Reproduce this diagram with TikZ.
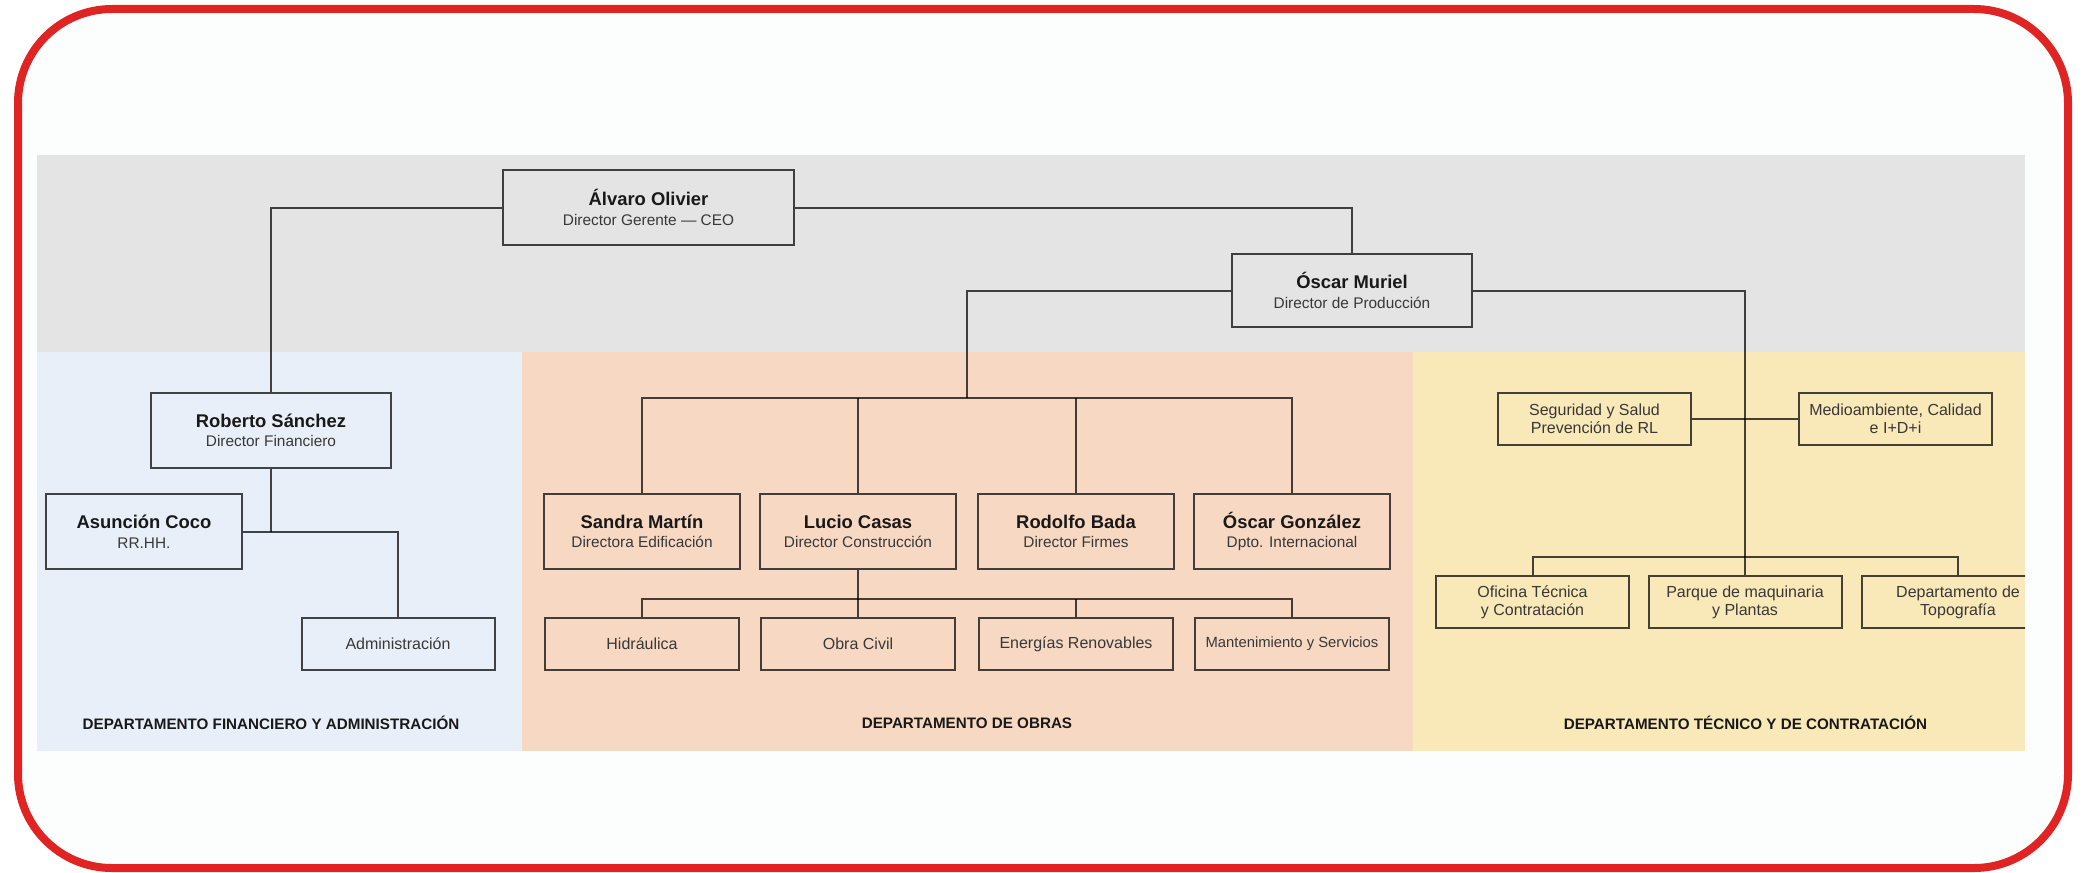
\documentclass[tikz,border=0pt]{standalone}
\usepackage{fontspec}
\setmainfont{Liberation Sans}
\usetikzlibrary{calc}
\definecolor{FrameClr}{rgb}{0.878,0.137,0.137}
\definecolor{PaperClr}{rgb}{0.988,0.996,0.992}
\definecolor{BandClr}{rgb}{0.894,0.894,0.894}
\definecolor{FinClr}{rgb}{0.914,0.937,0.976}
\definecolor{ObrasClr}{rgb}{0.969,0.847,0.765}
\definecolor{TecClr}{rgb}{0.976,0.910,0.722}
\definecolor{RoleClr}{rgb}{0.22,0.22,0.22}
\newcommand{\persona}[2]{{\fontsize{9.2}{9.75}\selectfont\bfseries #1}\\{\color{RoleClr}#2}}

\begin{document}
\begin{tikzpicture}[x=0.5pt,y=-0.5pt,
  box/.style={draw=black,draw opacity=0.72,line width=1pt,inner sep=0pt,align=center,
    text=black!90,font=\fontsize{7.7}{9.75}\selectfont},
  chief/.style={box,minimum width=98pt,minimum height=37.5pt},
  unit/.style={box,minimum width=96.5pt,minimum height=26pt,font=\fontsize{8}{9}\selectfont,text=RoleClr},
  dept/.style={font=\fontsize{7.6}{9}\selectfont\bfseries,text=black!90},
  link/.style={draw=black,draw opacity=0.72,line width=1pt}]

\useasboundingbox (0,0) rectangle (2086,872);
\fill[white] (0,0) rectangle (2086,872);
\draw[FrameClr,fill=PaperClr,line width=4pt,rounded corners=47pt] (18,9) rectangle (2068,868);

\fill[BandClr] (37,155) rectangle (2025,352);
\fill[FinClr] (37,352) rectangle (522,751);
\fill[ObrasClr] (522,352) rectangle (1413,751);
\fill[TecClr] (1413,352) rectangle (2025,751);

\node[chief,minimum width=145.5pt] (alv) at (648.5,207.5) {\persona{Álvaro Olivier}{Director Gerente — CEO}};
\node[chief,minimum width=120pt,minimum height=36.5pt] (mur) at (1352,290.5) {\persona{Óscar Muriel}{Director de Producción}};

\node[chief,minimum width=120pt] (rob) at (271,430.5) {\persona{Roberto Sánchez}{Director Financiero}};
\node[chief] (aso) at (144,531.5) {\persona{Asunción Coco}{RR.HH.}};
\node[unit] (adm) at (398,644) {Administración};

\node[chief] (san) at (642,531.5) {\persona{Sandra Martín}{Directora Edificación}};
\node[chief] (luc) at (858,531.5) {\persona{Lucio Casas}{Director Construcción}};
\node[chief] (rod) at (1076,531.5) {\persona{Rodolfo Bada}{Director Firmes}};
\node[chief] (gon) at (1292,531.5) {\persona{Óscar González}{Dpto. Internacional}};
\node[unit,minimum width=97pt] (hid) at (642,644) {Hidráulica};
\node[unit,minimum width=97pt] (civ) at (858,644) {Obra Civil};
\node[unit,minimum width=97pt] (ene) at (1076,644) {Energías Renovables};
\node[unit,minimum width=97pt,font=\fontsize{7.4}{9}\selectfont] (man) at (1292,644) {Mantenimiento y Servicios};

\node[unit] (seg) at (1594.5,419) {Seguridad y Salud\\Prevención de RL};
\node[unit] (med) at (1895.5,419) {Medioambiente, Calidad\\e I+D+i};
\node[unit] (ofi) at (1532.5,602) {Oficina Técnica\\y Contratación};
\node[unit] (par) at (1745,602) {Parque de maquinaria\\y Plantas};
\begin{scope}
\clip (1413,352) rectangle (2025,751);
\node[unit] (top) at (1958,602) {Departamento de\\Topografía};
\end{scope}

\coordinate (obar) at (966.5,398);
\coordinate (sbar) at (858,599);
\coordinate (tbar) at (1745,557);

\draw[link] (alv.west) -| (rob.north);
\draw[link] (alv.east) -| (mur.north);
\draw[link] (rob.south) -- (rob.south |- aso.east);
\draw[link] (aso.east) -| (adm.north);

\draw[link] (mur.west) -| (obar);
\draw[link] (san.north) |- (obar) -| (gon.north);
\draw[link] (luc.north) -- (luc.north |- obar);
\draw[link] (rod.north) -- (rod.north |- obar);
\draw[link] (luc.south) -- (sbar);
\draw[link] (hid.north) |- (sbar) -| (man.north);
\draw[link] (sbar) -- (civ.north);
\draw[link] (ene.north) -- (ene.north |- sbar);

\draw[link] (mur.east) -| (par.north);
\draw[link] (seg.east) -- (med.west);
\draw[link] (ofi.north) |- (tbar) -| (top.north);

\node[dept] (dfin) at (271,723) {DEPARTAMENTO FINANCIERO Y ADMINISTRACIÓN};
\node[dept] (dobr) at (967,723) {DEPARTAMENTO DE OBRAS};
\node[dept] (dtec) at (1745.5,723) {DEPARTAMENTO TÉCNICO Y DE CONTRATACIÓN};

\end{tikzpicture}
\end{document}
